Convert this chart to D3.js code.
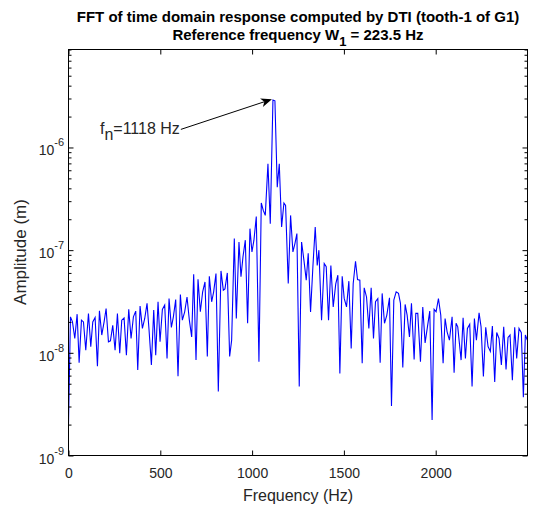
<!DOCTYPE html>
<html><head><meta charset="utf-8">
<script src="https://cdn.jsdelivr.net/npm/d3@7"></script>
<style>
body{margin:0;background:#fff}
text{font-family:"Liberation Sans",Arial,Helvetica,sans-serif}
</style>
</head><body>
<svg id="chart" width="535" height="509"></svg>
<script>
// ---- data ----
const frequencies = [
0,10.7,21.6,34.3,47,57.9,70.6,81.5,94.1,108.7,121.3,132.2,144.9,157.6,168.5,181.2,193.9,204.8,217.5,228.4,
241,253.7,266.5,279.1,290,302.7,315.4,328.1,340.8,353.5,366.2,377.1,389.8,402.5,415.2,427.8,438.7,451.5,464.2,475,
487.7,498.6,511.3,524,536.7,547.6,560.3,571.2,583.9,596.5,609.3,620.1,632.8,645.5,658.2,670.9,681.8,694.5,705.4,718.1,
730.7,743.4,756.1,767,779.7,790.6,803.3,816,
830.5,843.2,852.3,865,877.7,888.6,903.1,914,928.5,939.4,950.3,963,975.6,988.3,999.2,1010,1022.8,1037.3,1050,1060.9,
1071.8,1086.3,1099,1113.5,1124.3,1137,1148,1160.7,1173.3,1182.4,1196.9,1209.6,1222.3,1233.2,1244,1256.8,1269.5,1282.2,1294.9,1305.7,
1318.4,1331.1,1343.8,1354.7,1363.8,1378.3,1392.8,1403.7,1416.3,1429,1441.8,
1455.6,1467.1,1478,1490.7,1501.6,1514.3,1527,1539.7,1550.6,1563.3,1574.2,1586.9,1599.6,1610.5,1623.2,1635.9,1648.5,1661.2,1672.1,1684.8,
1697.5,1708.4,1721.1,1733.8,1748.3,1759.2,1771.9,1784.6,1797.3,1808.1,1820.8,1833.5,1844.4,1857.1,1868,1882.5,1891.6,1902.4,1917,1929.6,
1942.3,1955,1967.7,1980.4,1991.3,2002.2,2014.9,2027.6,2040.3,2051.2,2062.1,2074.8,2089.3,2100.2,2111,2120.1,2138.3,2149.2,2161.8,2172.7,
2185.4,2198.1,2210.8,2221.7,2236.2,2247.1,2259.8,2272.5,2285.2,2297.8,2308.7,2321.4,2332.3,2345,2357.7,2370.4,2383.1,2394,2404.9,2417.6,
2430.3,2441.1,2453.8,2466.5,2477.4,2488.3,2499
];
const amplitudes = [
2.0e-9,2.24e-8,2.0e-8,1.38e-8,2.38e-8,8.0e-9,2.08e-8,2.0e-8,1.06e-8,2.42e-8,1.15e-8,2.0e-8,2.21e-8,7.4e-9,2.57e-8,1.49e-8,2.0e-8,2.7e-8,1.28e-8,1.31e-8,
1.85e-8,1.06e-8,2.42e-8,9.9e-9,2.08e-8,2.19e-8,9.5e-9,2.65e-8,1.38e-8,2.24e-8,2.55e-8,6.8e-9,2.85e-8,1.73e-8,2.16e-8,3.03e-8,1.67e-8,7.6e-9,2.61e-8,9.5e-9,
3.14e-8,1.28e-8,2.65e-8,2.92e-8,8.8e-9,3.38e-8,1.77e-8,2.24e-8,3.31e-8,5.9e-9,3.7e-8,2.08e-8,2.51e-8,3.5e-8,2.08e-8,1.43e-8,5.83e-8,8.5e-9,5.2e-8,2.51e-8,
3.93e-8,4.9e-8,9.2e-9,5.57e-8,3.14e-8,3.93e-8,5.93e-8,4.2e-9,
6.28e-8,4.08e-8,4.2e-8,6.0e-8,9.2e-9,1.33e-8,1.3e-7,2.16e-8,1.2e-7,5.5e-8,8.6e-8,1.25e-7,1.94e-8,1.62e-7,9.6e-8,1.25e-7,2.13e-7,8.2e-9,2.88e-7,2.44e-7,
2.18e-7,6.94e-7,1.81e-7,2.9e-6,2.85e-6,4.11e-7,6.94e-7,1.68e-7,2.88e-7,2.73e-7,4.73e-8,2.18e-7,9.6e-8,1.16e-7,1.45e-7,4.7e-9,1.2e-7,8.0e-8,5.1e-8,9.3e-8,
2.5e-8,6.9e-8,1.68e-7,7.1e-8,1.0e-7,2.08e-8,7.4e-8,6.9e-8,2.08e-8,7.1e-8,2.8e-8,
4.7e-8,5.7e-8,6.3e-9,5.57e-8,3.39e-8,2.8e-8,4.99e-8,1.1e-8,4.7e-8,7.8e-8,5.18e-8,5.1e-8,7.9e-9,4.3e-8,3.5e-8,1.73e-8,4.3e-8,1.38e-8,3.14e-8,3.38e-8,
8.0e-9,3.79e-8,1.94e-8,2.33e-8,3.43e-8,3.04e-9,3.26e-8,3.93e-8,3.79e-8,3.03e-8,7.2e-9,2.96e-8,2.33e-8,1.43e-8,3.03e-8,8.6e-9,2.42e-8,2.42e-8,8.2e-9,2.8e-8,
1.25e-8,1.79e-8,2.55e-8,2.22e-9,2.65e-8,2.51e-8,3.38e-8,2.33e-8,7.9e-9,2.16e-8,1.6e-8,1.33e-8,2.24e-8,6.4e-9,1.94e-8,1.79e-8,8.5e-9,2.19e-8,8.8e-9,1.73e-8,
1.9e-8,4.7e-9,2.16e-8,1.33e-8,2.45e-8,1.79e-8,5.9e-9,1.77e-8,1.15e-8,1.03e-8,1.82e-8,5.2e-9,1.58e-8,1.38e-8,7.6e-9,1.79e-8,6.9e-9,1.41e-8,1.49e-8,5.4e-9,
1.77e-8,8.8e-9,1.73e-8,1.57e-8,3.7e-9,1.49e-8,1.33e-8
];
const xTickValues = [0, 500, 1000, 1500, 2000];
const xDomain = [0, 2500];
const yDomain = [1e-9, 9e-6];
const yTickExponents = [-9, -8, -7, -6];
const titleLine1 = "FFT of time domain response computed by DTI (tooth-1 of G1)";
const titleLine2 = ["Reference frequency W", "1", " = 223.5 Hz"];
const xLabel = "Frequency (Hz)";
const yLabel = "Amplitude (m)";
const annotationText = ["f", "n", "=1118 Hz"];
const annotationTail = [612, 1.5e-6];   // data coords
const annotationHead = [1108, 2.95e-6]; // data coords

// ---- layout ----
const svg = d3.select("#chart");
const L = 68.5, R = 527.5, T = 49.5, B = 455.5;
svg.append("rect").attr("width", 535).attr("height", 509).attr("fill", "#fff");

const x = d3.scaleLinear().domain(xDomain).range([L, R]);
const y = d3.scaleLog().domain(yDomain).range([B, T]);

svg.append("defs").append("clipPath").attr("id", "clip")
  .append("rect").attr("x", L).attr("y", T).attr("width", R - L).attr("height", B - T);

// data line
const line = d3.line().x((d, i) => x(frequencies[i])).y(d => y(d));
svg.append("path").datum(amplitudes)
  .attr("clip-path", "url(#clip)")
  .attr("fill", "none").attr("stroke", "#0000ff").attr("stroke-width", 1.1)
  .attr("stroke-linejoin", "miter")
  .attr("d", line);

// axes (ticks inward, box)
const axisColor = "#000";
const textColor = "#262626";
const gx = svg.append("g").attr("transform", `translate(0,${B})`)
  .call(d3.axisBottom(x).tickValues(xTickValues).tickSizeInner(-5).tickSizeOuter(0).tickPadding(13).tickFormat(d3.format("d")));
const gxt = svg.append("g").attr("transform", `translate(0,${T})`)
  .call(d3.axisTop(x).tickValues(xTickValues).tickSizeInner(-5).tickSizeOuter(0).tickFormat(""));

const majors = yTickExponents.map(e => Math.pow(10, e));
const minors = [];
yTickExponents.forEach(e => { for (let k = 2; k <= 9; k++) { const v = k * Math.pow(10, e); if (v <= yDomain[1]) minors.push(v); } });

const gy = svg.append("g").attr("transform", `translate(${L},0)`)
  .call(d3.axisLeft(y).tickValues(majors).tickSizeInner(-5).tickSizeOuter(0).tickFormat(""));
const gyr = svg.append("g").attr("transform", `translate(${R},0)`)
  .call(d3.axisRight(y).tickValues(majors).tickSizeInner(-5).tickSizeOuter(0).tickFormat(""));
const gym = svg.append("g").attr("transform", `translate(${L},0)`)
  .call(d3.axisLeft(y).tickValues(minors).tickSizeInner(-3).tickSizeOuter(0).tickFormat(""));
const gymr = svg.append("g").attr("transform", `translate(${R},0)`)
  .call(d3.axisRight(y).tickValues(minors).tickSizeInner(-3).tickSizeOuter(0).tickFormat(""));
[gx, gxt, gy, gyr, gym, gymr].forEach(g => {
  g.select(".domain").remove();
  g.selectAll(".tick line").attr("stroke", axisColor).attr("stroke-width", 1);
});
gx.selectAll(".tick text").attr("fill", textColor).attr("font-size", 14)
  .attr("font-family", "'Liberation Sans',Arial,sans-serif");

// box
svg.append("rect").attr("x", L).attr("y", T).attr("width", R - L).attr("height", B - T)
  .attr("fill", "none").attr("stroke", axisColor).attr("stroke-width", 1);

// y tick labels 10^e
const yl = svg.append("g");
yTickExponents.forEach(e => {
  const t = yl.append("text").attr("x", 64).attr("y", y(Math.pow(10, e)) + 8)
    .attr("text-anchor", "end").attr("fill", textColor).attr("font-size", 14);
  t.append("tspan").text("10");
  t.append("tspan").attr("dy", -9).attr("font-size", 11).text(String(e));
});

// titles
const cx = (L + R) / 2;
svg.append("text").attr("x", cx).attr("y", 22).attr("text-anchor", "middle")
  .attr("font-weight", "bold").attr("font-size", 15).attr("fill", "#000").text(titleLine1);
const t2 = svg.append("text").attr("x", cx).attr("y", 40).attr("text-anchor", "middle")
  .attr("font-weight", "bold").attr("font-size", 15).attr("fill", "#000");
t2.append("tspan").text(titleLine2[0]);
t2.append("tspan").attr("dy", 6).attr("font-size", 13).text(titleLine2[1]);
t2.append("tspan").attr("dy", -6).text(titleLine2[2]);

// axis labels
svg.append("text").attr("x", cx).attr("y", 501).attr("text-anchor", "middle")
  .attr("font-size", 16).attr("fill", textColor).text(xLabel);
svg.append("text").attr("transform", `translate(26,252) rotate(-90)`).attr("text-anchor", "middle")
  .attr("font-size", 17).attr("fill", textColor).text(yLabel);

// annotation
const ax0 = x(annotationTail[0]), ay0 = y(annotationTail[1]);
const ax1 = x(annotationHead[0]), ay1 = y(annotationHead[1]);
const ang = Math.atan2(ay1 - ay0, ax1 - ax0);
const hl = 11, hw = 4.5, back = 8;
const ux = Math.cos(ang), uy = Math.sin(ang), px = -uy, py = ux;
svg.append("line").attr("x1", ax0).attr("y1", ay0).attr("x2", ax1 - ux * back).attr("y2", ay1 - uy * back)
  .attr("stroke", "#000").attr("stroke-width", 1);
const head = [
  [ax1, ay1],
  [ax1 - ux * hl + px * hw, ay1 - uy * hl + py * hw],
  [ax1 - ux * back, ay1 - uy * back],
  [ax1 - ux * hl - px * hw, ay1 - uy * hl - py * hw]
];
svg.append("path").attr("d", "M" + head.map(p => p.join(",")).join("L") + "Z").attr("fill", "#000");
const at = svg.append("text").attr("x", ax0 - 1).attr("y", ay0 + 5).attr("text-anchor", "end")
  .attr("font-size", 16).attr("fill", textColor);
at.append("tspan").text(annotationText[0]);
at.append("tspan").attr("dy", 6).text(annotationText[1]);
at.append("tspan").attr("dy", -6).text(annotationText[2]);
</script>
</body></html>
